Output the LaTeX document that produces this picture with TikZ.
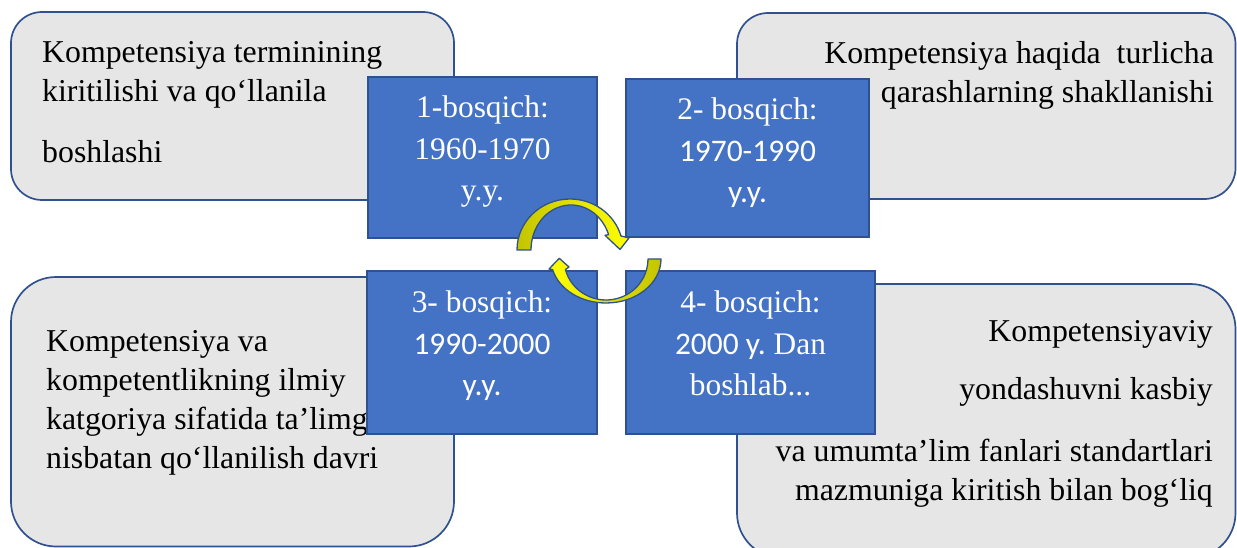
\documentclass[tikz,border=0pt]{standalone}
\usepackage{fontspec}
\setmainfont{Liberation Serif}
\newfontfamily\calfont{Carlito}
\usetikzlibrary{positioning}
\frenchspacing

\definecolor{boxgray}{HTML}{E7E6E6}
\definecolor{edgeblue}{HTML}{2F528F}
\definecolor{stageblue}{HTML}{4472C4}
\definecolor{arrowdark}{HTML}{C4C400}
\definecolor{arrowlight}{HTML}{FFFF00}

\tikzset{
    infobox/.style={draw=edgeblue, fill=boxgray, line width=1.7pt, inner sep=0pt},
    note/.style={inner sep=0pt, font=\fontsize{31.8}{39}\selectfont},
    stagebox/.style={draw=edgeblue, fill=stageblue, line width=1.6pt, inner sep=0pt},
    stagetext/.style={inner sep=0pt, text=white, align=center, font=\fontsize{31.4}{41.5}\selectfont},
    cyclearrow/.style={draw=edgeblue, line width=1.3pt, line join=round},
}

\begin{document}
\begin{tikzpicture}[x=1pt, y=-1pt]
        \path[use as bounding box, clip] (0,0) rectangle (1237,548);

        % rounded grey boxes
        \node[infobox, rounded corners=31pt, minimum width=443pt, minimum height=188pt] (b1) at (232.5,106) {};
        \node[infobox, rounded corners=31pt, minimum width=498.5pt, minimum height=186pt] (b2) at (986.25,106) {};
        \node[infobox, rounded corners=45pt, minimum width=443pt, minimum height=269.5pt] (b3) at (232.5,411.75) {};
        \node[infobox, rounded corners=45pt, minimum width=498.5pt, minimum height=274pt] (b4) at (986.25,421) {};

        \node[note, anchor=north west, align=left] (t1) at (42,41.3)
            {Kompetensiya terminining\\kiritilishi va qo‘llanila\\[22pt]boshlashi};
        \node[note, anchor=north east, align=right] (t2) at (1214,41.3)
            {Kompetensiya haqida\ \ turlicha\\qarashlarning shakllanishi};
        \node[note, anchor=north west, align=left] (t3) at (46,330.3)
            {Kompetensiya va\\kompetentlikning ilmiy\\katgoriya sifatida ta’limg\\nisbatan qo‘llanilish davri};
        \node[note, anchor=north east, align=right] (t4) at (1213,320.3)
            {Kompetensiyaviy\\[19pt]yondashuvni kasbiy\\[23pt]va umumta’lim fanlari standartlari\\mazmuniga kiritish bilan bog‘liq};

        % blue stage squares
        \node[stagebox, minimum width=229pt, minimum height=161pt] (s1) at (482.5,157.5) {};
        \node[stagebox, minimum width=243pt, minimum height=158pt] (s2) at (747.5,158) {};
        \node[stagebox, minimum width=230pt, minimum height=163pt] (s3) at (482,352.5) {};
        \node[stagebox, minimum width=249pt, minimum height=163pt] (s4) at (750.5,352.5) {};

        \node[stagetext, below=19.5pt of s1.north] (l1) {1-bosqich:\\1960-1970\\y.y.};
        \node[stagetext, below=19.5pt of s2.north] (l2) {2- bosqich:\\{\calfont 1970-1990}\\{\calfont y.y.}};
        \node[stagetext, below=20.5pt of s3.north] (l3) {3- bosqich:\\{\calfont 1990-2000}\\{\calfont y.y.}};
        \node[stagetext, below=20.5pt of s4.north] (l4) {4- bosqich:\\{\calfont 2000 y.} Dan\\boshlab...};

        % circular arrows
        \draw[cyclearrow, left color=arrowdark, right color=arrowlight]
            (517,250) arc[start angle=180, end angle=344, x radius=53, y radius=51]
            -- (629,238) -- (620,249.5) -- (605,235.3) -- (608.6,234.6)
            arc[start angle=340, end angle=180, x radius=40, y radius=45] -- cycle;
        \draw[cyclearrow, left color=arrowlight, right color=arrowdark]
            (661,259) arc[start angle=0, end angle=166, x radius=55, y radius=44]
            -- (549,269) -- (559.3,258.3) -- (569,267) -- (565.4,269.6)
            arc[start angle=165, end angle=0, x radius=42, y radius=41] -- cycle;
\end{tikzpicture}
\end{document}
